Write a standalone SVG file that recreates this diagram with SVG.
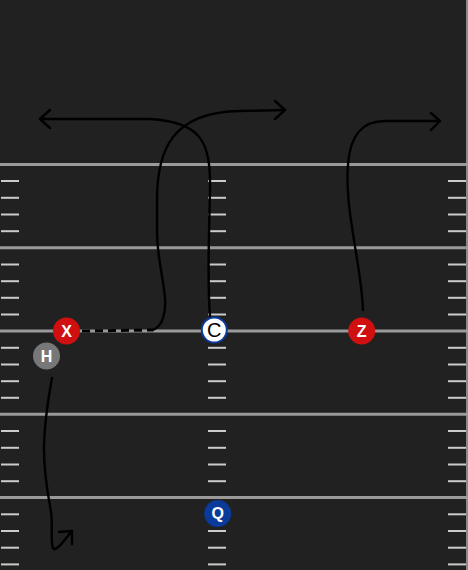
<svg xmlns="http://www.w3.org/2000/svg" width="468" height="570" viewBox="0 0 468 570">
<defs>
<style>
.yl{stroke:#9a9a9a;stroke-width:3}
.hs{stroke:#cccccc;stroke-width:2}
.rt{fill:none;stroke:#000;stroke-width:2.4;stroke-linecap:round;stroke-linejoin:round}
.ds{fill:none;stroke:#000;stroke-width:3;stroke-dasharray:8 5}
.lbl{font-family:"Liberation Sans",Arial,sans-serif;font-size:16px;font-weight:bold;fill:#fff;text-anchor:middle}
</style>
<g id="hashrow">
<line class="hs" x1="1" x2="19" y1="0" y2="0"/>
<line class="hs" x1="208" x2="226" y1="0" y2="0"/>
<line class="hs" x1="448" x2="466" y1="0" y2="0"/>
</g>
</defs>
<rect x="0" y="0" width="468" height="570" fill="#212121"/>
<line x1="467" y1="0" x2="467" y2="570" stroke="#8a8a8a" stroke-width="2"/>
<g id="field">
<line class="yl" x1="0" x2="468" y1="164.5" y2="164.5"/>
<line class="yl" x1="0" x2="468" y1="247.8" y2="247.8"/>
<line class="yl" x1="0" x2="468" y1="331" y2="331"/>
<line class="yl" x1="0" x2="468" y1="414.3" y2="414.3"/>
<line class="yl" x1="0" x2="468" y1="497.5" y2="497.5"/>
<use href="#hashrow" y="181"/><use href="#hashrow" y="197.8"/><use href="#hashrow" y="214.5"/><use href="#hashrow" y="231.2"/>
<use href="#hashrow" y="264.5"/><use href="#hashrow" y="281.2"/><use href="#hashrow" y="297.8"/><use href="#hashrow" y="314.5"/>
<use href="#hashrow" y="347.8"/><use href="#hashrow" y="364.5"/><use href="#hashrow" y="381.2"/><use href="#hashrow" y="397.8"/>
<use href="#hashrow" y="431"/><use href="#hashrow" y="447.8"/><use href="#hashrow" y="464.5"/><use href="#hashrow" y="481.2"/>
<use href="#hashrow" y="514.3"/><use href="#hashrow" y="531"/><use href="#hashrow" y="547.7"/><use href="#hashrow" y="564.4"/>
</g>
<g id="connectors">
<path class="ds" d="M82,331 L153,330"/>
<path class="rt" d="M153,330 C163,326 166,312 165,298 C163,275 157,258 157,230 L157,200 C157,150 172,112 240,111 L285,110"/>
<path class="rt" d="M275,101 L285,110 L275,119"/>
<path class="rt" d="M210,316 C207,280 209,240 210,190 C211,140 200,122 150,119 L40,119"/>
<path class="rt" d="M50,110 L40,119 L50,128"/>
<path class="rt" d="M363,310 C362,285 357,260 354,240 C350,215 346,190 348,165 C350,135 362,121 385,121 L440,121"/>
<path class="rt" d="M431,113 L440,121 L431,130"/>
<path class="rt" d="M52,378 C48,400 44,425 44,450 C44,475 48,495 51,512 C53,525 50,548 54,549 C58,550 66,538 72,531"/>
<path class="rt" d="M59,532 L72,531 L72,544"/>
</g>
<g id="X"><circle cx="66.5" cy="331" r="13.5" fill="#d01010"/><text class="lbl" x="66.5" y="336.8">X</text></g>
<g id="H"><circle cx="46.5" cy="356" r="13.5" fill="#777777"/><text class="lbl" x="46.5" y="361.8">H</text></g>
<g id="C"><circle cx="214.3" cy="330" r="12.5" fill="#ffffff" stroke="#0a3a9a" stroke-width="2"/><text x="214.3" y="337.2" font-family="'Liberation Sans',Arial,sans-serif" font-size="20" fill="#000" text-anchor="middle">C</text></g>
<g id="Z"><circle cx="361.7" cy="331" r="13.5" fill="#d01010"/><text class="lbl" x="361.7" y="336.8">Z</text></g>
<g id="Q"><circle cx="217.7" cy="513.5" r="13.5" fill="#0a3a9a"/><text class="lbl" x="217.7" y="519.3">Q</text></g>
</svg>
